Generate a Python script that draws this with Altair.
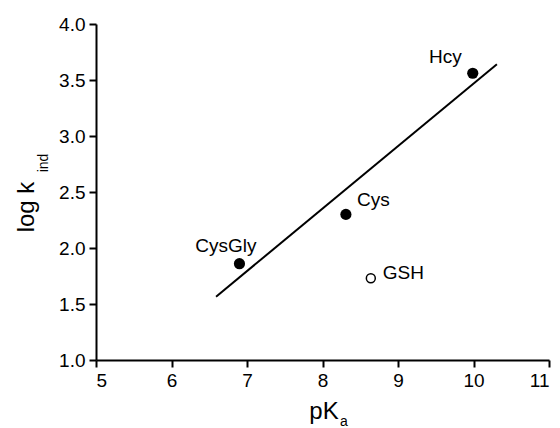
import altair as alt
import pandas as pd

# data
names = ["CysGly", "Cys", "Hcy", "GSH"]
pka = [6.90, 8.31, 9.99, 8.64]
logk = [1.86, 2.30, 3.56, 1.73]
filled = ["filled", "filled", "filled", "open"]

line_x = [6.59, 10.31]
line_y = [1.565, 3.64]

x_ticks = [5, 6, 7, 8, 9, 10, 11]
y_ticks = [1.0, 1.5, 2.0, 2.5, 3.0, 3.5, 4.0]

FONT = "Liberation Sans"

pts = pd.DataFrame({"name": names, "pka": pka, "logk": logk, "kind": filled})
ln = pd.DataFrame({"pka": line_x, "logk": line_y})

xs = alt.Scale(domain=[5, 11], nice=False, zero=False)
ys = alt.Scale(domain=[1, 4], nice=False, zero=False)

axis_style = dict(
    grid=False, domainColor="black", domainWidth=2, tickColor="black",
    tickWidth=2, tickSize=7, labelFont=FONT, labelFontSize=19,
    labelColor="black", labelPadding=4, title=None,
)

X = alt.X("pka:Q", scale=xs,
          axis=alt.Axis(values=x_ticks, format="d", **axis_style))
Y = alt.Y("logk:Q", scale=ys,
          axis=alt.Axis(values=y_ticks, format=".1f", **axis_style))

line = alt.Chart(ln).mark_line(color="black", strokeWidth=2).encode(x=X, y=Y)

filled_pts = alt.Chart(pts).transform_filter(alt.datum.kind == "filled").mark_point(
    shape="circle", filled=True, color="black", size=125, opacity=1
).encode(x=X, y=Y)

open_pts = alt.Chart(pts).transform_filter(alt.datum.kind == "open").mark_point(
    shape="circle", filled=False, color="black", size=80, strokeWidth=1.5, opacity=1
).encode(x=X, y=Y)

def label(name, align, dx, dy):
    return alt.Chart(pts).transform_filter(alt.datum.name == name).mark_text(
        align=align, baseline="alphabetic", dx=dx, dy=dy,
        font=FONT, fontSize=19, color="black"
    ).encode(x=X, y=Y, text="name:N")

labels = [
    label("Hcy", "right", -11, -10),
    label("Cys", "left", 11, -8),
    label("CysGly", "right", 17, -12),
    label("GSH", "left", 12, 1),
]

def title_text(txt, x, y, size, angle=0, align="center"):
    return alt.Chart(pd.DataFrame({"t": [txt]})).mark_text(
        font=FONT, fontSize=size, color="black", angle=angle,
        align=align, baseline="alphabetic"
    ).encode(x=alt.value(x), y=alt.value(y), text="t:N")

titles = [
    title_text("pK", 228, 395, 24),
    title_text("a", 244, 402, 14, align="left"),
    title_text("log k", -62, 183, 24, angle=270),
    title_text("ind", -48, 139, 14, angle=270),
]

chart = alt.layer(line, filled_pts, open_pts, *labels, *titles).properties(
    width=453, height=336,
    autosize=alt.AutoSizeParams(type="none"),
    padding={"left": 96, "top": 24, "right": 11, "bottom": 68},
).configure_view(stroke=None)

chart.save("out.html", embed_options={"renderer": "svg", "actions": False})
